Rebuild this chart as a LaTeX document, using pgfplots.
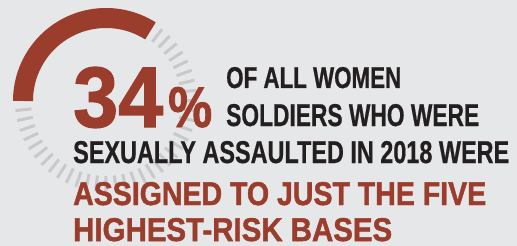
\documentclass[border=0pt]{standalone}
\usepackage{pgfplots}
\pgfplotsset{compat=1.18}
\usepackage{fontspec}
\setmainfont{Liberation Sans}
\newfontfamily\heavy{Liberation Sans}[UprightFont=* Bold, FakeBold=1.5]
\newfontfamily\medbold{Liberation Sans}[UprightFont=* Bold, FakeBold=0.8]
\definecolor{bg}{HTML}{E6E7E8}
\definecolor{redc}{HTML}{9B3D2D}
\definecolor{darkc}{HTML}{231F20}
\definecolor{tickgray}{HTML}{C8C9CB}
\newcommand\fitbox[3]{\resizebox{#1pt}{#2pt}{#3}}
\def\pct{34}
\pgfmathsetmacro\startang{180-3.6*\pct}
\begin{document}
\begin{tikzpicture}
\fill[bg] (0,0) rectangle (517pt,246pt);
\begin{axis}[at={(0,0)}, anchor=south west, scale only axis,
  width=517pt, height=246pt, xmin=0, xmax=517, ymin=0, ymax=246,
  y dir=reverse, hide axis, clip=false]
\pgfplotsinvokeforeach{0,...,35}{
  \addplot[tickgray, line width=3pt, domain=75:91, samples=2, variable=\r]
    ({106+\r*cos(52-#1*6.457)},{101-\r*sin(52-#1*6.457)});
}
\addplot[redc, line width=20pt, domain=\startang:180, samples=100]
  ({106+83*cos(x)},{101-83*sin(x)});
\node[anchor=base west, inner sep=0, text=redc] at (axis cs:73,127)
  {\fitbox{90}{60}{\heavy\fontsize{30}{30}\selectfont 34}};
\node[anchor=base west, inner sep=0, text=redc] at (axis cs:168,127)
  {\fitbox{44}{40}{\heavy\fontsize{30}{30}\selectfont \%}};
\node[anchor=base west, inner sep=0, text=darkc] at (axis cs:226,88)
  {\fitbox{175}{21}{\medbold\fontsize{30}{30}\selectfont OF ALL WOMEN}};
\node[anchor=base west, inner sep=0, text=darkc] at (axis cs:226,126)
  {\fitbox{253}{22}{\medbold\fontsize{30}{30}\selectfont SOLDIERS WHO WERE}};
\node[anchor=base west, inner sep=0, text=darkc] at (axis cs:73,163)
  {\fitbox{436}{22}{\medbold\fontsize{30}{30}\selectfont SEXUALLY ASSAULTED IN 2018 WERE}};
\node[anchor=base west, inner sep=0, text=redc] at (axis cs:73,205)
  {\fitbox{413}{23}{\heavy\fontsize{30}{30}\selectfont ASSIGNED TO JUST THE FIVE}};
\node[anchor=base west, inner sep=0, text=redc] at (axis cs:73,241)
  {\fitbox{319}{23}{\heavy\fontsize{30}{30}\selectfont HIGHEST-RISK BASES}};
\end{axis}
\pgfresetboundingbox
\useasboundingbox (0,0) rectangle (517pt,246pt);
\end{tikzpicture}
\end{document}
